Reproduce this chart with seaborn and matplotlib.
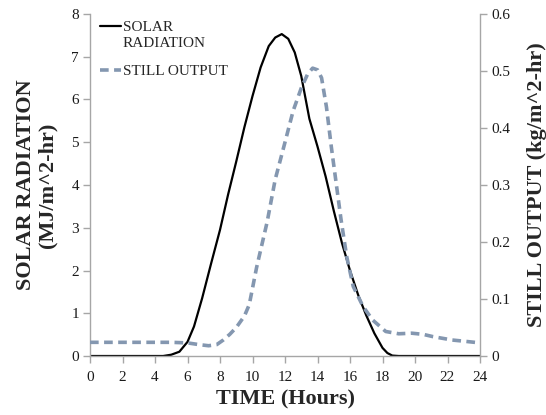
import numpy as np
import pandas as pd
import matplotlib
matplotlib.use("Agg")
import matplotlib.pyplot as plt
import seaborn as sns
from matplotlib.legend_handler import HandlerLine2D

# values
sun_hours = [0, 1, 2, 3, 4, 4.5, 5.0, 5.5, 6.0, 6.4, 6.9, 7.45, 8.0, 8.5, 9.0, 9.5,
             10.0, 10.5, 11.0, 11.4, 11.8, 12.2, 12.6, 13.0, 13.5, 14.0, 14.5, 15.0,
             15.5, 16.0, 16.5, 17.0, 17.5, 18.0, 18.3, 18.6, 19, 20, 21, 22, 23, 24]
solar_radiation = [0, 0, 0, 0, 0, 0.0, 0.03, 0.1, 0.33, 0.69, 1.35, 2.16, 2.95, 3.78,
                   4.55, 5.35, 6.08, 6.75, 7.25, 7.45, 7.53, 7.42, 7.1, 6.55, 5.55, 4.9,
                   4.2, 3.4, 2.65, 2.0, 1.43, 0.95, 0.53, 0.19, 0.07, 0.01, 0, 0, 0, 0, 0, 0]

still_hours = [0, 2, 4, 5, 6, 6.7, 7.3, 7.8, 8.2, 8.6, 9.0, 9.5, 9.8, 10.25, 10.9,
               11.4, 12.0, 12.5, 13.0, 13.4, 13.7, 14.0, 14.25, 14.55, 14.85, 15.15,
               15.45, 15.8, 16.2, 16.8, 17.4, 18.2, 19.0, 19.8, 20.5, 21.1, 22.3, 23.0, 24]
still_output = [0.024, 0.024, 0.024, 0.024, 0.023, 0.02, 0.018, 0.02, 0.028, 0.038,
                0.05, 0.07, 0.09, 0.155, 0.235, 0.31, 0.375, 0.43, 0.47, 0.495, 0.505,
                0.502, 0.488, 0.437, 0.367, 0.303, 0.239, 0.174, 0.122, 0.087, 0.063,
                0.043, 0.039, 0.040, 0.038, 0.034, 0.028, 0.026, 0.023]

sun = pd.DataFrame({"hour": sun_hours, "value": solar_radiation})
still = pd.DataFrame({"hour": still_hours, "value": still_output})


# legend handle sits next to the first line of a two-line label (Excel style)
class FirstLineHandler(HandlerLine2D):
    def __init__(self, shift, **kw):
        super().__init__(**kw)
        self.shift = shift

    def create_artists(self, legend, orig_handle, xdescent, ydescent, width, height,
                       fontsize, trans):
        arts = super().create_artists(legend, orig_handle, xdescent, ydescent, width,
                                      height, fontsize, trans)
        for a in arts:
            a.set_ydata(np.asarray(a.get_ydata()) + self.shift * fontsize)
        return arts


sns.set_style("white")
plt.rcParams['font.family'] = ['Liberation Serif', 'DejaVu Serif']

spine_col = "#A6A6A6"
still_col = "#8497B0"

fig = plt.figure(figsize=(5.46, 4.15), dpi=100)
ax = fig.add_axes([90 / 546, 1 - 356 / 415, 390 / 546, 342 / 415])
ax2 = ax.twinx()

sns.lineplot(data=sun, x="hour", y="value", ax=ax, color="black", lw=1.6,
             sort=False, legend=False)
sns.lineplot(data=still, x="hour", y="value", ax=ax2, color=still_col, lw=2.6,
             sort=False, legend=False)
ax2.lines[0].set_dashes((2.4, 1.5))

ax.set_xlim(0, 24)
ax.set_ylim(0, 8)
ax2.set_ylim(0, 0.6)
ax.set_xticks(range(0, 25, 2))
ax.set_yticks(range(0, 9))
ax2.set_yticks(np.arange(0, 0.61, 0.1))
ax2.set_yticklabels(["0", "0.1", "0.2", "0.3", "0.4", "0.5", "0.6"])

for a in (ax, ax2):
    a.spines["top"].set_visible(False)
    for s in ("left", "right", "bottom"):
        a.spines[s].set_color(spine_col)
        a.spines[s].set_linewidth(1.0)
    a.tick_params(length=5, width=1.0, color=spine_col, labelsize=11,
                  labelcolor="#1a1a1a", pad=3)
ax.spines["right"].set_visible(False)
ax2.spines["left"].set_visible(False)
ax2.spines["bottom"].set_visible(False)
ax.tick_params(axis="x", bottom=True, pad=6)
ax.tick_params(axis="y", left=True)
ax2.tick_params(axis="y", right=True)

ax.set_xlabel("TIME (Hours)", fontsize=16, fontweight="bold", labelpad=4)
ax.set_ylabel("SOLAR RADIATION\n(MJ/m^2-hr)", fontsize=16, fontweight="bold",
              labelpad=10, linespacing=1.1)
ax2.set_ylabel("STILL OUTPUT (kg/m^2-hr)", fontsize=16, fontweight="bold", labelpad=12)

handles = [ax.lines[0], ax2.lines[0]]
leg = ax.legend(handles=handles, labels=["SOLAR\nRADIATION", "STILL OUTPUT"],
                loc="upper left", bbox_to_anchor=(-0.01, 1.02), frameon=False,
                fontsize=11, handlelength=1.4, handletextpad=0.1, labelspacing=0.95,
                handler_map={ax.lines[0]: FirstLineHandler(0.6)})
leg.get_texts()[0].set_linespacing(1.3)

fig.savefig("out.png", dpi=100)
